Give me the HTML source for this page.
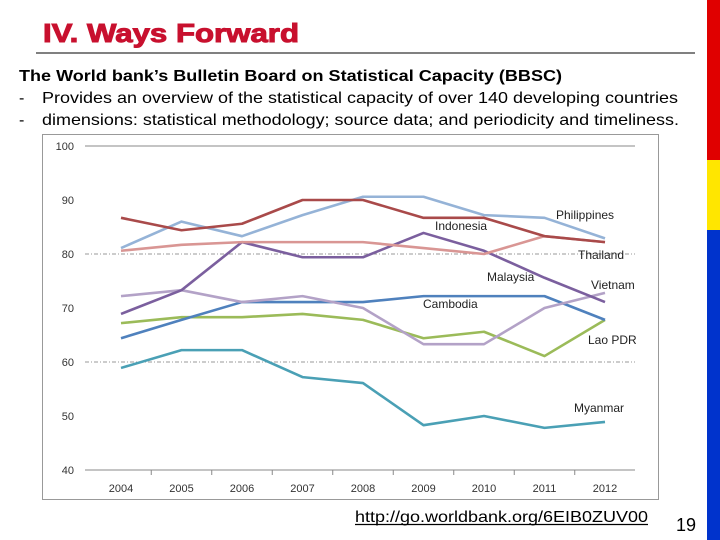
<!DOCTYPE html>
<html><head><meta charset="utf-8"><style>
body{margin:0;width:720px;height:540px;background:#fff;position:relative;overflow:hidden;font-family:"Liberation Sans",sans-serif}
.a{position:absolute;margin:0}
</style></head><body>
<svg class="a" style="left:0;top:0" width="720" height="540">
<text x="43" y="42" font-size="26" font-weight="bold" fill="#c8102e" stroke="#c8102e" stroke-width="1" textLength="256" lengthAdjust="spacingAndGlyphs" font-family="Liberation Sans">IV. Ways Forward</text>
<text x="19" y="81" font-size="16" font-weight="bold" fill="#000" textLength="543" lengthAdjust="spacingAndGlyphs" font-family="Liberation Sans">The World bank’s Bulletin Board on Statistical Capacity (BBSC)</text>
<text x="19" y="103" font-size="16" fill="#000" font-family="Liberation Sans">-</text>
<text x="42" y="103" font-size="16" fill="#000" textLength="636" lengthAdjust="spacingAndGlyphs" font-family="Liberation Sans">Provides an overview of the statistical capacity of over 140 developing countries</text>
<text x="19" y="125" font-size="16" fill="#000" font-family="Liberation Sans">-</text>
<text x="42" y="125" font-size="16" fill="#000" textLength="637" lengthAdjust="spacingAndGlyphs" font-family="Liberation Sans">dimensions: statistical methodology; source data; and periodicity and timeliness.</text>
<text x="355" y="522" font-size="16" fill="#000" textLength="293" lengthAdjust="spacingAndGlyphs" font-family="Liberation Sans">http://go.worldbank.org/6EIB0ZUV00</text>
<line x1="355" x2="648" y1="524.5" y2="524.5" stroke="#000" stroke-width="1.2"/>
<text x="676" y="531" font-size="18" fill="#000" font-family="Liberation Sans">19</text>
</svg>
<div class="a" style="left:36px;top:52px;width:659px;height:2px;background:#808080"></div>
<div class="a" style="left:707px;top:0;width:13px;height:160px;background:#e00000"></div>
<div class="a" style="left:707px;top:160px;width:13px;height:70px;background:#ffe600"></div>
<div class="a" style="left:707px;top:230px;width:13px;height:310px;background:#0033cc"></div>
<svg class="a" style="left:0;top:0" width="720" height="540" id="svg"></svg>
<script>
const years=[2004,2005,2006,2007,2008,2009,2010,2011,2012];
const yTicks=[40,50,60,70,80,90,100];
const seriesNames=["Myanmar","Lao PDR","Cambodia","Vietnam","Malaysia","Thailand","Philippines","Indonesia"];
const myanmar=[58.9,62.2,62.2,57.2,56.1,48.3,50.0,47.8,48.9];
const lao=[67.2,68.3,68.3,68.9,67.8,64.4,65.6,61.1,67.8];
const cambodia=[64.4,67.8,71.1,71.1,71.1,72.2,72.2,72.2,67.8];
const vietnam=[72.2,73.3,71.1,72.2,70.0,63.3,63.3,70.0,72.8];
const malaysia=[68.9,73.3,82.2,79.4,79.4,83.9,80.6,75.6,71.1];
const thailand=[80.6,81.7,82.2,82.2,82.2,81.1,80.0,83.3,82.2];
const philippines=[81.1,86.0,83.3,87.2,90.6,90.6,87.2,86.7,82.9];
const indonesia=[86.7,84.4,85.6,90.0,90.0,86.7,86.7,83.3,82.2];
const allSeries=[myanmar,lao,cambodia,vietnam,malaysia,thailand,philippines,indonesia];
const colors=["#4aa0b5","#9bbb59","#4f81bd","#b3a2c7","#7b5f9e","#d99694","#95b3d7","#a94a4a"];
const labelPos=[[574,412],[588,344],[423,308],[591,289],[487,281],[578,259],[556,219],[435,230]];
const NS="http://www.w3.org/2000/svg";
const svg=document.getElementById('svg');
const x=i=>121+i*60.5;
const y=v=>470-(v-40)*5.4;
function mk(t,a){const e=document.createElementNS(NS,t);for(const k in a)e.setAttribute(k,a[k]);svg.appendChild(e);return e;}
let e=mk('rect',{x:42.5,y:134.5,width:616,height:365,fill:'#fff',stroke:'#999'});


yTicks.forEach(t=>{
 const g=mk('line',{x1:85,x2:635,y1:y(t),y2:y(t),stroke:(t==40||t==100)?'#888':'#999','stroke-dasharray':(t==80||t==60)?'4,2,1,2':'none','stroke-width':1});
 
 
 if(t==50||t==70||t==90){g.setAttribute('stroke','none');}
 const l=mk('text',{x:74,y:y(t)+4,'text-anchor':'end','font-size':11,fill:'#333','font-family':'Liberation Sans'});
 l.textContent=t;
 
 
});
years.forEach((yr,i)=>{
 const l=mk('text',{x:x(i),y:492,'text-anchor':'middle','font-size':11,fill:'#333','font-family':'Liberation Sans'});
 l.textContent=yr;
 
 
 if(i>0){const tk=mk('line',{x1:x(i)-30.25,x2:x(i)-30.25,y1:470,y2:475,stroke:'#888'});
 
 }
});
allSeries.forEach((s,k)=>{
 const p=mk('polyline',{points:s.map((v,i)=>x(i)+','+y(v)).join(' '),fill:'none',stroke:colors[k],'stroke-width':2.6,'stroke-linejoin':'round'});
 
 
 const t=mk('text',{x:labelPos[k][0],y:labelPos[k][1],'font-size':12,fill:'#222','font-family':'Liberation Sans'});
 t.textContent=seriesNames[k];
 
 
});
</script>
</body></html>
